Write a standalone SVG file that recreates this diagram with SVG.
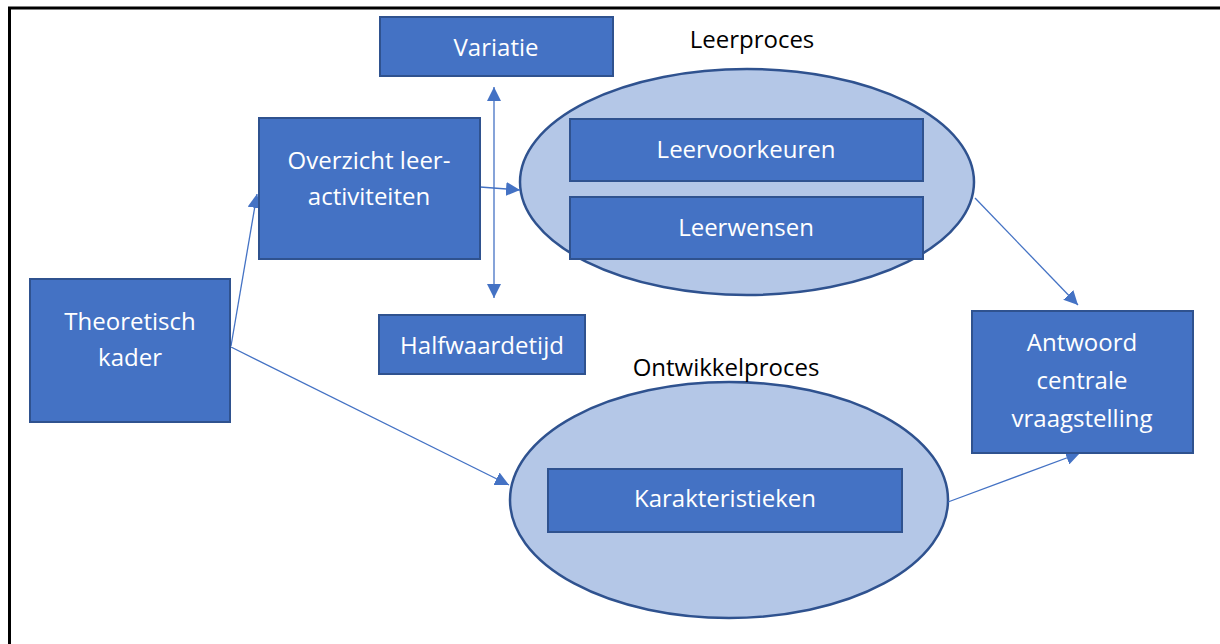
<svg xmlns="http://www.w3.org/2000/svg" width="1220" height="644" viewBox="0 0 1220 644">
<style>
.box{fill:#4472C4;stroke:#2F528F;stroke-width:2}
.ell{fill:#B4C7E7;stroke:#2F528F;stroke-width:2.5}
.t{font-family:"Open Sans","Liberation Sans",sans-serif;font-size:24px;fill:#fff;text-anchor:middle}
.lbl{font-family:"Open Sans","Liberation Sans",sans-serif;font-size:24px;fill:#000;text-anchor:middle}
.c{stroke:#4472C4;stroke-width:1.3;fill:none}
</style>
<defs>
<marker id="ah" viewBox="0 0 10 10" refX="10" refY="5" markerWidth="14" markerHeight="14" markerUnits="userSpaceOnUse" orient="auto-start-reverse">
<path d="M0,0 L10,5 L0,10 z" fill="#4472C4"/>
</marker>
</defs>
<rect x="0" y="0" width="1220" height="644" fill="#fff"/>
<path d="M9.5,660 V8 H1240" fill="none" stroke="#000" stroke-width="3"/>
<g id="leerproces">
<ellipse class="ell" cx="747" cy="182" rx="227" ry="113"/>
<text class="lbl" x="752" y="48">Leerproces</text>
</g>
<g id="ontwikkelproces">
<ellipse class="ell" cx="729" cy="500" rx="219" ry="118"/>
<text class="lbl" x="726" y="376">Ontwikkelproces</text>
</g>
<g id="connectors">
<line class="c" x1="231" y1="346" x2="257" y2="194" marker-end="url(#ah)"/>
<line class="c" x1="231" y1="347" x2="509" y2="485" marker-end="url(#ah)"/>
<line class="c" x1="480" y1="187" x2="520" y2="190" marker-end="url(#ah)"/>
<line class="c" x1="494" y1="87" x2="494" y2="298" marker-start="url(#ah)" marker-end="url(#ah)"/>
<line class="c" x1="975" y1="198" x2="1078" y2="305" marker-end="url(#ah)"/>
<line class="c" x1="948" y1="502" x2="1080" y2="453" marker-end="url(#ah)"/>
</g>
<g id="variatie">
<rect class="box" x="380" y="17" width="233" height="59"/>
<text class="t" x="496" y="56">Variatie</text>
</g>
<g id="overzicht">
<rect class="box" x="259" y="118" width="221" height="141"/>
<text class="t" x="369" y="169">Overzicht leer-</text>
<text class="t" x="369" y="205">activiteiten</text>
</g>
<g id="theoretisch">
<rect class="box" x="30" y="279" width="200" height="143"/>
<text class="t" x="130" y="330">Theoretisch</text>
<text class="t" x="130" y="366">kader</text>
</g>
<g id="halfwaardetijd">
<rect class="box" x="379" y="315" width="206" height="59"/>
<text class="t" x="482" y="354">Halfwaardetijd</text>
</g>
<g id="leervoorkeuren">
<rect class="box" x="570" y="119" width="353" height="62"/>
<text class="t" x="746" y="158">Leervoorkeuren</text>
</g>
<g id="leerwensen">
<rect class="box" x="570" y="197" width="353" height="62"/>
<text class="t" x="746" y="236">Leerwensen</text>
</g>
<g id="karakteristieken">
<rect class="box" x="548" y="469" width="354" height="63"/>
<text class="t" x="725" y="507">Karakteristieken</text>
</g>
<g id="antwoord">
<rect class="box" x="972" y="311" width="221" height="142"/>
<text class="t" x="1082" y="351">Antwoord</text>
<text class="t" x="1082" y="389">centrale</text>
<text class="t" x="1082" y="427">vraagstelling</text>
</g>
</svg>
